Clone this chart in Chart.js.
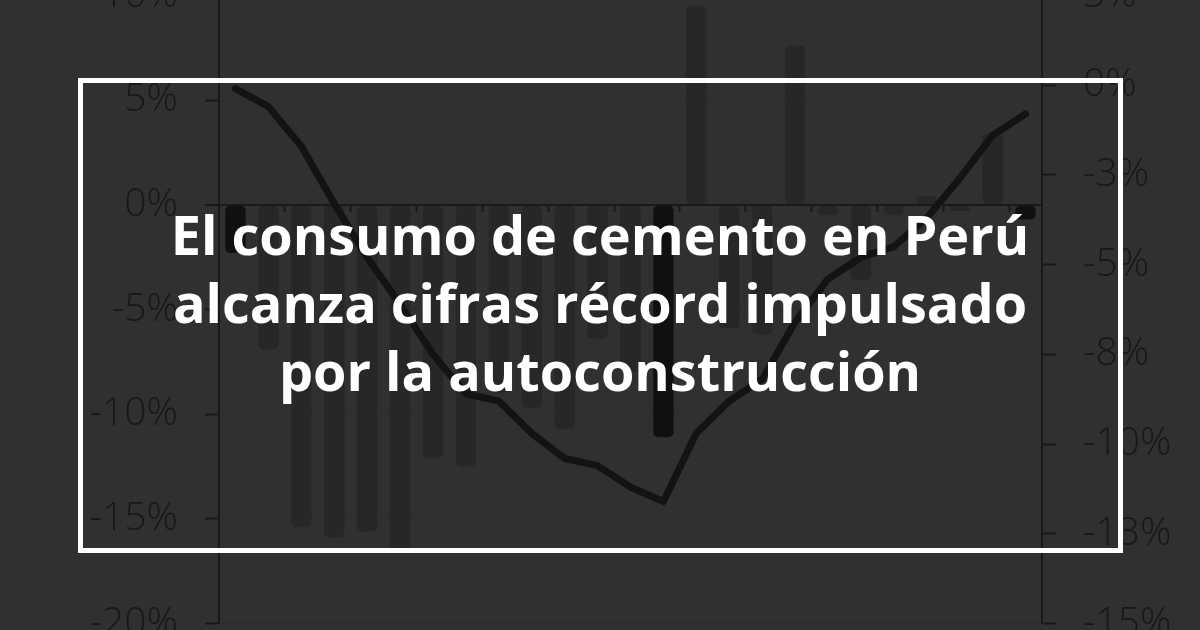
<!DOCTYPE html>
<html lang="es">
<head>
<meta charset="utf-8">
<title>Consumo de cemento en Perú</title>
<script src="https://cdn.jsdelivr.net/npm/chart.js@4.4.1/dist/chart.umd.min.js"></script>
<style>
  html, body { margin: 0; padding: 0; }
  body {
    width: 1200px;
    height: 630px;
    overflow: hidden;
    position: relative;
    background: #303030;
  }
  /* el lienzo sobresale arriba y abajo: el gráfico original está recortado */
  #grafico {
    position: absolute;
    left: 0;
    top: -55px;
    width: 1200px;
    height: 729px;
  }
  #marco {
    position: absolute;
    left: 78px;
    top: 78px;
    width: 1045px;
    height: 475px;
    border: 5px solid #fff;
    box-sizing: border-box;
  }
  #titulo {
    position: absolute;
    left: 0;
    top: 200px;
    width: 1200px;
    margin: 0;
    text-align: center;
    color: #fff;
    font: 700 54px/68px "Open Sans", Roboto, sans-serif;
  }
</style>
</head>
<body>
<div id="grafico"><canvas id="chart"></canvas></div>
<div id="marco"></div>
<h1 id="titulo">El consumo de cemento en Perú<br>alcanza cifras récord impulsado<br>por la autoconstrucción</h1>

<script>
// Meses del periodo (las etiquetas no se ven en la imagen, quedan fuera del recorte)
const meses = [
    "dic-22", "ene-23", "feb-23", "mar-23", "abr-23", "may-23", "jun-23",
    "jul-23", "ago-23", "sep-23", "oct-23", "nov-23", "dic-23", "ene-24",
    "feb-24", "mar-24", "abr-24", "may-24", "jun-24", "jul-24", "ago-24",
    "sep-24", "oct-24", "nov-24", "dic-24"
];

// Variación mensual del consumo (%), eje izquierdo
const variacionMensual = [
    -2.3, -6.9, -15.4, -15.9, -15.6, -16.4, -12.1,
    -12.5, -9.0, -9.7, -10.7, -6.4, -8.0, -11.1,
    9.5, -5.9, -6.2, 7.6, -0.5, -3.6, -0.5,
    0.4, -0.3, 3.4, -0.7
];

// Variación acumulada (%), eje derecho
const variacionAcumulada = [
    -0.1, -0.6, -1.7, -3.3, -4.8, -6.1, -7.5,
    -8.6, -8.8, -9.7, -10.4, -10.6, -11.2, -11.6,
    -9.7, -8.8, -8.2, -6.6, -5.4, -4.8, -4.5,
    -3.7, -2.6, -1.4, -0.8
];

// Meses resaltados con barra oscura
const mesesDestacados = [0, 13, 24];

// Rangos de los ejes: [mínimo, máximo, paso]
const ejeIzquierdo = [-20, 10, 5];
const ejeDerecho = [-15, 2.5, 2.5];

const colorEje = "#191919";
const colorRejilla = "#2b2b2b";
const colorTexto = "#181818";
const fuenteEje = { family: "'Open Sans', sans-serif", size: 39, weight: "300" };

// Marcas del eje x cada dos meses, entre categorías
const separadores = meses.map((m, i) => i + 0.5).filter((v, i) => i % 2 === 1);

const ctx = document.getElementById("chart").getContext("2d");

new Chart(ctx, {
    data: {
        labels: meses,
        datasets: [
            {
                type: "line",
                label: "Acumulado",
                data: variacionAcumulada,
                yAxisID: "y2",
                borderColor: "#131313",
                borderWidth: 7,
                borderCapStyle: "round",
                borderJoinStyle: "round",
                pointRadius: 0,
                tension: 0,
                order: 0
            },
            {
                type: "bar",
                label: "Mensual",
                data: variacionMensual,
                yAxisID: "y",
                backgroundColor: meses.map((m, i) => mesesDestacados.includes(i) ? "#101010" : "#272727"),
                borderRadius: 5,
                borderSkipped: false,
                categoryPercentage: 1,
                barPercentage: 0.62,
                order: 1
            }
        ]
    },
    options: {
        responsive: true,
        maintainAspectRatio: false,
        animation: false,
        layout: {
            padding: { top: 50, bottom: 50, left: 0, right: 0 }
        },
        plugins: {
            legend: { display: false },
            tooltip: { enabled: false }
        },
        scales: {
            x: {
                type: "category",
                display: false
            },
            xt: {
                type: "linear",
                min: -0.5,
                max: meses.length - 0.5,
                position: { y: 0 },
                afterBuildTicks: axis => {
                    axis.ticks = separadores.map(v => ({ value: v }));
                },
                ticks: { display: false },
                grid: {
                    drawOnChartArea: false,
                    drawTicks: true,
                    tickLength: 7,
                    tickWidth: 2,
                    tickColor: colorEje
                },
                border: { display: false }
            },
            y: {
                position: "left",
                min: ejeIzquierdo[0],
                max: ejeIzquierdo[1],
                ticks: {
                    stepSize: ejeIzquierdo[2],
                    callback: v => v + "%",
                    color: colorTexto,
                    font: fuenteEje,
                    padding: 27
                },
                grid: {
                    color: c => c.tick.value === 0 ? colorEje : colorRejilla,
                    lineWidth: c => c.tick.value === 0 ? 2 : 1,
                    tickColor: colorEje,
                    tickLength: 14,
                    tickWidth: 2
                },
                border: { color: colorEje, width: 2 },
                afterFit: s => { s.width = 219; }
            },
            y2: {
                position: "right",
                min: ejeDerecho[0],
                max: ejeDerecho[1],
                ticks: {
                    stepSize: ejeDerecho[2],
                    callback: v => v.toFixed(0) + "%",
                    color: colorTexto,
                    font: fuenteEje,
                    padding: 27
                },
                grid: {
                    drawOnChartArea: false,
                    tickColor: colorEje,
                    tickLength: 14,
                    tickWidth: 2
                },
                border: { color: colorEje, width: 2 },
                afterFit: s => { s.width = 158; }
            }
        }
    }
});
</script>
</body>
</html>
